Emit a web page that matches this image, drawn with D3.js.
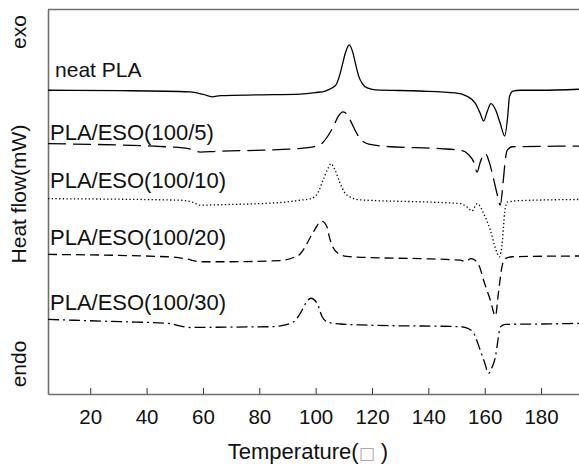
<!DOCTYPE html>
<html>
<head>
<meta charset="utf-8">
<script src="https://cdn.jsdelivr.net/npm/d3@7"></script>
<style>
  html, body { margin: 0; padding: 0; background: #fff; }
  svg { display: block; }
  text { font-family: "Liberation Sans", Arial, sans-serif; fill: #111; }
</style>
</head>
<body>
<div id="chart"></div>
<script>
// ---- data (temperature in °C, heat flow in arbitrary offset units) ----
const seriesNames = ["neat PLA", "PLA/ESO(100/5)", "PLA/ESO(100/10)", "PLA/ESO(100/20)", "PLA/ESO(100/30)"];

const neatT = [5, 30.7, 55.5, 60.1, 63.3, 66.2, 80.4, 94.5, 99.9, 103.4, 105.6, 107.3, 108.4, 109.5, 110.6, 111.9, 113.2, 114.2, 115.3, 116.5, 118.3, 121.2, 137.1, 149.6, 153.8, 156.7, 158.4, 159.6, 160.9, 162.2, 163.8, 165.5, 167.1, 168.2, 168.8, 170.0, 172.6, 179.7, 195];
const neatV = [79.0, 78.9, 78.6, 77.9, 77.3, 77.6, 77.8, 78.0, 78.4, 78.8, 79.5, 80.5, 82.6, 85.7, 88.8, 90.8, 88.8, 85.7, 82.6, 80.8, 79.6, 79.1, 78.8, 78.3, 77.4, 75.6, 73.0, 71.0, 73.5, 75.5, 74.0, 70.4, 67.1, 72.5, 77.4, 78.8, 79.0, 79.0, 79.3];

const eso5T = [5, 49.5, 54.8, 59.1, 64.4, 88.5, 96.3, 99.9, 102.4, 104.5, 106.3, 108.0, 109.7, 111.2, 113.0, 114.8, 116.6, 119.4, 124.7, 144.2, 151.4, 154.2, 156.0, 157.3, 158.4, 160.2, 161.6, 163.0, 164.5, 165.5, 166.6, 167.3, 168.0, 169.8, 179.7, 195];
const eso5V = [65.1, 64.2, 63.8, 62.9, 63.1, 63.6, 64.0, 64.4, 65.3, 67.3, 69.6, 72.2, 73.4, 72.7, 70.1, 67.5, 65.8, 64.9, 64.4, 63.8, 63.4, 62.3, 60.5, 57.7, 60.3, 62.5, 60.3, 56.4, 51.7, 49.1, 55.6, 60.8, 63.4, 64.3, 64.4, 64.5];

const eso10T = [5, 52.0, 56.2, 59.1, 64.4, 87.5, 94.5, 98.7, 100.9, 102.6, 104.4, 105.4, 106.9, 108.4, 110.2, 112.3, 115.8, 144.2, 151.4, 153.8, 155.5, 157.3, 159.9, 162.0, 163.8, 165.2, 166.3, 167.1, 168.0, 172.6, 195];
const eso10V = [50.8, 50.4, 49.9, 49.1, 49.2, 49.8, 50.4, 50.9, 52.5, 55.6, 58.7, 59.9, 58.2, 55.3, 52.5, 51.2, 50.5, 49.8, 49.5, 48.6, 47.6, 49.5, 46.5, 42.6, 37.9, 35.7, 40.0, 47.3, 49.9, 50.3, 50.6];

const eso20T = [5, 47.2, 53.7, 59.1, 69.7, 87.5, 92.1, 94.5, 96.9, 98.5, 99.9, 101.1, 102.3, 104.0, 104.8, 105.8, 108.1, 111.1, 118.7, 137.1, 151.4, 153.1, 155.2, 156.7, 158.1, 159.6, 162.0, 163.8, 164.9, 166.1, 167.3, 169.8, 195];
const eso20V = [36.3, 35.7, 35.2, 34.4, 34.4, 34.7, 35.5, 36.4, 39.1, 41.3, 43.0, 44.4, 44.9, 43.5, 41.0, 38.7, 36.5, 35.8, 35.5, 35.2, 34.8, 34.5, 35.2, 34.7, 33.2, 29.6, 24.4, 20.3, 26.5, 33.0, 35.2, 35.7, 35.9];

const eso30T = [5, 30.7, 47.2, 55.5, 69.7, 83.9, 87.5, 92.2, 95.2, 96.7, 98.3, 100.5, 102.3, 104.6, 108.8, 118.7, 151.4, 154.2, 156.1, 158.4, 159.9, 161.4, 162.5, 163.8, 164.7, 165.5, 167.3, 179.7, 195];
const eso30V = [19.4, 18.8, 18.4, 17.3, 17.4, 17.5, 17.7, 18.8, 21.8, 23.9, 24.9, 23.6, 20.1, 18.6, 18.2, 17.9, 17.5, 17.0, 15.8, 11.4, 8.3, 5.4, 6.8, 9.7, 14.0, 17.4, 18.1, 18.2, 18.4];

const xTicks = [20, 40, 60, 80, 100, 120, 140, 160, 180];
const xTitle = "Temperature(";
const xUnit = "\u25A1";
const yTitle = "Heat flow(mW)";
const yTop = "exo";
const yBottom = "endo";

// ---- layout ----
const W = 579, H = 464;
const margin = { left: 48, top: 9.5, bottom: 394 };
const x = d3.scaleLinear().domain([5, 195]).range([margin.left, margin.left + 190 * 2.8175]);
const y = d3.scaleLinear().domain([0, 100]).range([margin.bottom, margin.top]);

const svg = d3.select("#chart").append("svg").attr("width", W).attr("height", H);

const styles = [
  { dash: null },
  { dash: "18,7" },
  { dash: "1.3,2.4" },
  { dash: "9,5" },
  { dash: "11,4,2,4" }
];
const series = [
  [neatT, neatV], [eso5T, eso5V], [eso10T, eso10V], [eso20T, eso20V], [eso30T, eso30V]
].map(([t, v], i) => ({ name: seriesNames[i], pts: t.map((d, j) => [d, v[j]]), style: styles[i] }));

const line = d3.line().x(d => x(d[0])).y(d => y(d[1])).curve(d3.curveMonotoneX);

// frame: top line
const frameColor = "#707070";
svg.append("line").attr("x1", x(5)).attr("x2", x(195)).attr("y1", y(100)).attr("y2", y(100))
  .attr("stroke", frameColor).attr("stroke-width", 1.6);

// x axis
const xAxis = d3.axisBottom(x).tickValues(xTicks).tickSizeInner(-6).tickSizeOuter(0).tickPadding(15);
const gx = svg.append("g").attr("transform", `translate(0,${y(0)})`).call(xAxis);
gx.select(".domain").attr("stroke", frameColor).attr("stroke-width", 1.6);
gx.selectAll(".tick line").attr("stroke", "#333").attr("stroke-width", 1);
gx.selectAll(".tick text").attr("font-size", 20.5).attr("font-family", "Liberation Sans, Arial, sans-serif").attr("fill", "#111");

// y axis line (no ticks)
const yAxis = d3.axisLeft(y).tickValues([]).tickSizeOuter(0);
const gy = svg.append("g").attr("transform", `translate(${x(5)},0)`).call(yAxis);
gy.select(".domain").attr("stroke", frameColor).attr("stroke-width", 1.6);

// curves
svg.append("g").selectAll("path").data(series).join("path")
  .attr("d", d => line(d.pts))
  .attr("fill", "none")
  .attr("stroke", "#000")
  .attr("stroke-width", 1.3)
  .attr("stroke-dasharray", d => d.style.dash);

// series labels
const labelPos = [[7.5, 77, 21], [5.7, 140, 22], [5.7, 188, 22], [5.7, 245, 22], [5.7, 310, 22]];
svg.append("g").selectAll("text").data(series).join("text")
  .attr("x", (d, i) => x(labelPos[i][0]))
  .attr("y", (d, i) => labelPos[i][1])
  .attr("font-size", (d, i) => labelPos[i][2])
  .text(d => d.name);

// axis titles
const xt = svg.append("text").attr("x", 308).attr("y", 459).attr("text-anchor", "middle").attr("font-size", 22);
xt.append("tspan").text(xTitle);
xt.append("tspan").attr("fill", "#aaa").attr("font-size", 17).attr("font-family", "DejaVu Sans").text(xUnit);
xt.append("tspan").text(" )");

function yLabel(txt, cy) {
  svg.append("text").attr("transform", `translate(19,${cy}) rotate(-90)`)
    .attr("text-anchor", "middle").attr("dy", "0.35em").attr("font-size", 21).text(txt);
}
yLabel(yTop, 32);
yLabel(yTitle, 194);
yLabel(yBottom, 364);
</script>
</body>
</html>
